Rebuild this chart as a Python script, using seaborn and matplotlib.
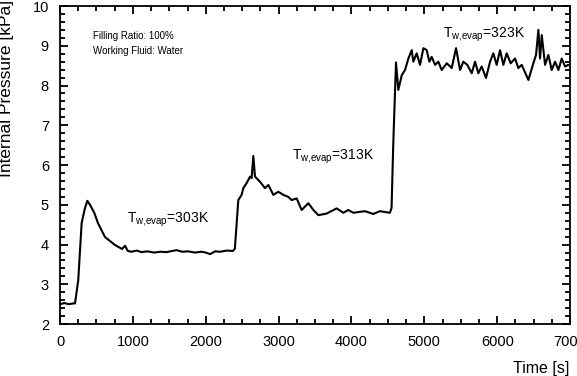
import matplotlib
matplotlib.use("Agg")
import matplotlib.pyplot as plt
import numpy as np
import pandas as pd
import seaborn as sns
from matplotlib.ticker import MultipleLocator

# %% DATA
time_s = [
    0, 60, 120, 180, 206, 250, 297, 340, 375, 412, 470, 521, 617, 754, 850, 892,
    930, 980, 1050, 1120, 1200, 1290, 1380, 1460, 1540, 1600, 1680, 1760,
    1850, 1940, 2000, 2060, 2130, 2200, 2290, 2374,
    2400, 2447, 2492, 2516, 2562, 2608, 2630, 2653, 2676, 2745, 2813, 2859,
    2928, 2996, 3065, 3133, 3179, 3248, 3316, 3408, 3477, 3545, 3659, 3796,
    3888, 3956, 4025, 4184, 4299, 4390, 4527, 4550, 4573,
    4611, 4643, 4690, 4735, 4781, 4827, 4849, 4895, 4941, 4987, 5032, 5069,
    5101, 5147, 5192, 5238, 5307, 5376, 5435, 5490, 5535, 5590, 5650, 5696,
    5741, 5787, 5846, 5902, 5947, 5993, 6039, 6084, 6130, 6185, 6245, 6290,
    6336, 6428, 6496, 6533, 6565, 6588, 6611, 6657, 6702, 6748, 6794, 6840,
    6885, 6931, 6977,
]
pressure_kpa = [
    2.50, 2.53, 2.50, 2.52, 2.52, 3.10, 4.54, 4.90, 5.10, 5.00, 4.80, 4.54,
    4.19, 3.99, 3.89, 3.97, 3.84, 3.82, 3.85, 3.81, 3.83, 3.80, 3.82, 3.81,
    3.84, 3.86, 3.82, 3.83, 3.80, 3.82, 3.80, 3.76, 3.83, 3.82, 3.85, 3.84,
    3.90, 5.12, 5.25, 5.42, 5.55, 5.71, 5.67, 6.23, 5.71, 5.58, 5.42, 5.50,
    5.25, 5.33, 5.25, 5.20, 5.12, 5.16, 4.87, 5.04, 4.87, 4.74, 4.78, 4.91,
    4.80, 4.87, 4.80, 4.84, 4.77, 4.84, 4.80, 4.92, 6.50,
    8.58, 7.89, 8.26, 8.39, 8.68, 8.89, 8.60, 8.81, 8.52, 8.94, 8.89, 8.60,
    8.72, 8.52, 8.60, 8.39, 8.56, 8.44, 8.94, 8.39, 8.60, 8.52, 8.31, 8.60,
    8.31, 8.48, 8.19, 8.60, 8.81, 8.52, 8.89, 8.52, 8.81, 8.56, 8.68, 8.44,
    8.52, 8.14, 8.56, 8.77, 9.40, 8.68, 9.27, 8.52, 8.77, 8.39, 8.60, 8.39,
    8.68, 8.48, 8.52,
]

stage_labels = ["303K", "313K", "323K"]
stage_x = [919, 3178, 5258]
stage_y = [4.62, 6.21, 9.27]

notes = ["Filling Ratio: 100%", "Working Fluid: Water"]

df = pd.DataFrame({"time": time_s, "pressure": pressure_kpa})

# %% STYLE
sns.set_style("ticks")
plt.rcParams["font.family"] = ["Liberation Sans", "DejaVu Sans"]
plt.rcParams["mathtext.fontset"] = "custom"
plt.rcParams["mathtext.rm"] = "Liberation Sans"
plt.rcParams["mathtext.default"] = "regular"
plt.rcParams["text.color"] = "black"

# %% PLOT
fig = plt.figure(figsize=(5.77, 3.76), dpi=100)
ax = fig.add_axes([0.104, 0.138, 0.884, 0.846])

sns.lineplot(data=df, x="time", y="pressure", color="black", linewidth=1.5,
             ax=ax, estimator=None, sort=False)

ax.set_xlim(0, 7000)
ax.set_ylim(2, 10)
ax.xaxis.set_major_locator(MultipleLocator(1000))
ax.xaxis.set_minor_locator(MultipleLocator(250))
ax.yaxis.set_major_locator(MultipleLocator(1))
ax.yaxis.set_minor_locator(MultipleLocator(0.2))
ax.tick_params(which="both", direction="in", top=True, right=True,
               width=1.3, labelsize=10.5, colors="black")
ax.tick_params(which="major", length=6, pad=8)
ax.tick_params(which="minor", length=3.5)
for sp in ax.spines.values():
    sp.set_linewidth(1.3)
    sp.set_color("black")

ax.set_xlabel("")
ax.set_ylabel("")
fig.text(0.986, 0.0, "Time [s]", ha="right", va="bottom", fontsize=11.5,
         color="black")
fig.text(-0.002, 1.0, "Internal Pressure [kPa]", rotation=90,
         ha="left", va="top", fontsize=12.5, color="black")

for lab, x, y in zip(stage_labels, stage_x, stage_y):
    ax.text(x, y, r"T$_{w{,}evap}$=" + lab, fontsize=10, va="center",
            color="black")

ax.text(0.065, 0.905, notes[0], transform=ax.transAxes, fontsize=7,
        va="center", color="black")
ax.text(0.065, 0.86, notes[1], transform=ax.transAxes, fontsize=7,
        va="center", color="black")

fig.savefig("out.png", dpi=100)
